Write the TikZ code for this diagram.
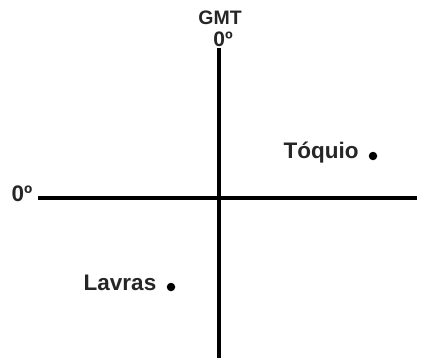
\documentclass[tikz,border=0pt]{standalone}
\usepackage{fontspec}
\setmainfont{Liberation Sans}
\begin{document}
\begin{tikzpicture}[x=1pt,y=-1pt,
  lbl/.style={font=\fontsize{22.5}{22.5}\selectfont\bfseries, inner sep=0pt, text=black!85},
  axis/.style={line width=3.2pt, black},
  city/.style={circle, fill=black, inner sep=0pt, minimum size=8.5pt}]
\useasboundingbox (0,0) rectangle (430,358);
\coordinate (vtop) at (219,48);
\coordinate (vbot) at (219,358);
\coordinate (hl) at (38,198);
\coordinate (hr) at (417,198);
\draw[axis] (vtop) -- (vbot);
\draw[axis] (hl) -- (hr);
\node[lbl, font=\fontsize{19.5}{19.5}\selectfont\bfseries] (gmt) at (220,17.5) {GMT};
\node[lbl, font=\fontsize{21}{21}\selectfont\bfseries] (z1) at (223,39.5) {0º};
\node[lbl] (z2) at (22,194) {0º};
\node[lbl] (tq) at (321,153) {Tóquio};
\node[city] (tqd) at (373,156) {};
\node[lbl] (lv) at (120,283) {Lavras};
\node[city] (lvd) at (171,287) {};
\end{tikzpicture}
\end{document}
